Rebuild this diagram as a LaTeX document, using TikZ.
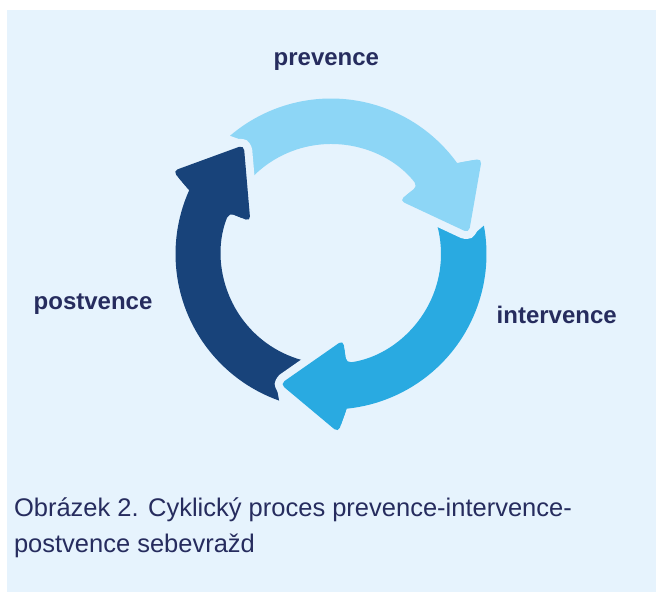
\documentclass[tikz,border=0pt]{standalone}
\usepackage{fontspec}
\setmainfont{Liberation Sans}
\usetikzlibrary{calc}

\definecolor{panel}{HTML}{E6F3FD}
\definecolor{ink}{HTML}{262C5E}
\definecolor{cyclelight}{HTML}{8DD6F6}
\definecolor{cyclemid}{HTML}{29AAE1}
\definecolor{cycledark}{HTML}{18437A}

% One arrow of the cycle, drawn around the origin; the other two are rotated copies.
% Outer radius 155.5, inner radius 110, head base near 36 deg, tail near 130 deg.
\newcommand{\cyclebody}{%
  (130.5:155.5pt) arc[start angle=130.5, end angle=35.8, radius=155.5pt]
  [rounded corners=5pt] -- (32.3:178.5pt) -- (8.7:139.5pt) -- (38:87pt) -- (38:110pt)
  [sharp corners] arc[start angle=38, end angle=140, radius=110pt]
  -- (140:120pt) -- (127.3:142pt) -- cycle}
\newcommand{\cycleheadedge}{%
  (32.3:178.5pt) -- (8.7:139.5pt) -- (38:87pt)}
\newcommand{\cyclehead}{%
  (35.8:155.5pt) -- (32.3:178.5pt) -- (8.7:139.5pt) -- (38:87pt) -- (38:110pt) -- cycle}

\tikzset{
  label text/.style={inner sep=0pt, anchor=base west, text=ink,
    font=\fontsize{24}{28}\selectfont\bfseries},
  caption text/.style={inner sep=0pt, anchor=base west, text=ink,
    font=\fontsize{25.5}{30}\selectfont},
  head gap/.style={draw=panel, line width=16pt, line cap=round, line join=round,
    rounded corners=5pt},
  head fill/.style={rounded corners=5pt}
}

\begin{document}
\begin{tikzpicture}[x=1pt, y=1pt]
  \useasboundingbox (0,0) rectangle (656,592);
  \fill[white] (0,0) rectangle (656,592);
  \fill[panel] (7,0) rectangle (656,582);

  \coordinate (C) at (331,338);

  % arrow bodies
  \foreach \rot/\col in {0/cyclelight, 240/cyclemid, 120/cycledark} {
    \begin{scope}[shift={(C)}, rotate=\rot]
      \fill[\col] \cyclebody;
    \end{scope}
  }
  % arrow heads, each with a gap over the tail it overlaps
  \foreach \rot/\col in {0/cyclelight, 240/cyclemid, 120/cycledark} {
    \begin{scope}[shift={(C)}, rotate=\rot]
      \path[head gap] \cycleheadedge;
      \fill[\col, head fill] \cyclehead;
    \end{scope}
  }

  \node[label text] (prev) at (273.5,526) {prevence};
  \node[label text] (int) at (496.5,268.5) {intervence};
  \node[label text] (post) at (33.5,282.5) {postvence};

  \node[caption text] (cap1) at (13.8,76) {Obrázek 2. Cyklický proces prevence-intervence-};
  \node[caption text] (cap2) at (13.8,40) {postvence sebevražd};
\end{tikzpicture}
\end{document}
